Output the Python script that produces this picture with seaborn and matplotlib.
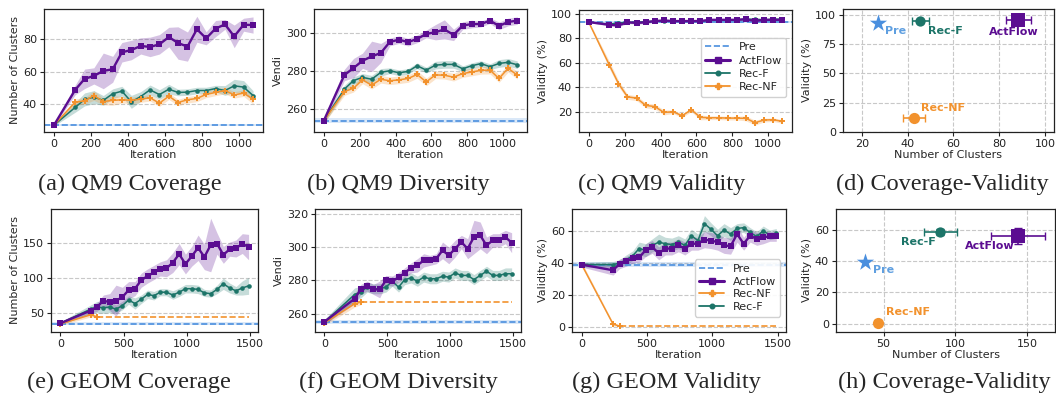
import numpy as np
import matplotlib
matplotlib.use("Agg")
import matplotlib.pyplot as plt
import seaborn as sns
from matplotlib.lines import Line2D

# ---------------- data ----------------
QM9_ITER = [0, 115, 166, 216, 267, 318, 368, 419, 470, 520, 571, 622, 672, 723, 774, 824, 875, 926, 976, 1027, 1078]

qm9_cov_act = [27, 48.8, 55.6, 57.4, 60.5, 61.5, 72, 73.4, 75.9, 75.3, 76.9, 81.4, 77.7, 75.5, 86.2, 80.6, 86.6, 89.2, 81.8, 89, 88.8]
qm9_cov_act_sd = [0.5, 3, 6, 5, 11, 8, 6, 6, 5, 6, 6, 6, 10, 9, 8, 4, 5, 3, 7, 4, 5]
qm9_cov_recf = [27, 38, 42.9, 44.3, 42.3, 46.4, 48, 41.4, 44.7, 48.8, 45.9, 49.2, 47.2, 47.4, 48.4, 48.4, 49.6, 48.4, 51.3, 50.5, 45.3]
qm9_cov_recf_sd = [0.5, 3, 4, 4, 3, 3, 3, 4, 3, 3, 3, 3, 2, 2, 2, 2, 2, 3, 4, 4, 3]
qm9_cov_recnf = [27, 41.2, 42, 45.3, 41.6, 42.3, 42.7, 42.3, 43.1, 43.9, 40.6, 44.9, 41, 42.7, 43.5, 46, 47.2, 48.4, 45.7, 46.8, 43.1]
qm9_cov_recnf_sd = [0.5, 2, 2, 3, 2, 3, 2, 2, 2, 2, 2, 2, 2, 2, 2, 2, 2, 2, 2, 2, 3]
qm9_cov_pre, qm9_cov_pre_sd = 27.1, 0.6

qm9_div_act = [253.6, 277.7, 281.4, 285.2, 287.5, 289.3, 295.1, 296.3, 295, 296.7, 299.3, 300.2, 301.7, 298.8, 303.7, 304.5, 304.5, 306.3, 303.5, 305.6, 306.3]
qm9_div_act_sd = [1.5, 3, 5, 4, 8, 5, 2, 2, 2, 2, 2, 4, 5, 3, 2, 2, 1.5, 1.5, 2, 2, 2]
qm9_div_recf = [253.6, 270.3, 274.8, 276.5, 275.5, 279.1, 280, 278.9, 279.6, 282.6, 280.3, 282.9, 283.3, 283.3, 281, 282.6, 283.7, 282.1, 283.8, 284.4, 283.1]
qm9_div_recf_sd = [1.5, 2, 2, 2, 2, 2, 1.5, 1.5, 1.5, 1.5, 1.5, 2, 2, 2, 1.5, 1.5, 1.5, 1.5, 2, 2, 2]
qm9_div_recnf = [253.6, 269, 270.8, 275.2, 272.4, 275.5, 274.7, 275.2, 275.9, 278, 274.1, 277.8, 277.6, 276.6, 278.5, 279.3, 280.2, 280.3, 275.9, 281.3, 277.6]
qm9_div_recnf_sd = [1.5, 2, 2, 2, 2, 2, 2, 2, 2, 2, 2, 2, 2, 2, 2, 2, 2, 2, 2, 2, 2]
qm9_div_pre, qm9_div_pre_sd = 253.8, 1.5

qm9_val_act = [93.2, 91, 90.5, 93, 92.5, 93, 94, 94.5, 94, 94, 94, 94, 95, 95, 95, 95, 95.5, 94, 95, 95, 95]
qm9_val_act_sd = [0.5, 1, 1.2, 1, 1, 1, 1, 1, 1, 1, 1, 1, 1, 1, 1, 1, 1, 1, 1, 1, 1]
qm9_val_recf = [93.2, 91.5, 92.5, 93, 93, 93.5, 94, 94, 94, 94, 94, 94, 94.5, 95, 95, 95, 95.5, 95.5, 95, 95.5, 95.5]
qm9_val_recf_sd = [0.5, 1, 1, 1, 1, 1, 1, 1, 1, 1, 1, 1, 1, 1, 1, 1, 1, 1, 1, 1, 1]
qm9_val_recnf = [93.2, 58.3, 43.2, 32.4, 31.3, 25.4, 24.5, 19.7, 20.3, 17, 21.9, 15.7, 15.4, 15.4, 15.1, 15.1, 14.9, 11.4, 13.5, 13.8, 12.4]
qm9_val_recnf_sd = [1, 3, 2.5, 2, 2, 2, 2, 2, 1.5, 1.5, 1.5, 2, 1.5, 1.5, 1.5, 1.5, 2, 2, 1.5, 1.5, 1.5]
qm9_val_pre, qm9_val_pre_sd = 93.2, 0.5

GEOM_ITER = [0, 240, 290, 340, 390, 440, 490, 540, 590, 640, 690, 740, 790, 840, 890, 940, 990, 1040, 1090, 1140, 1190, 1240, 1290, 1340, 1390, 1440, 1490]

geom_cov_act = [36, 54, 59, 68, 66, 68, 73, 83, 85, 97, 103, 108, 113, 114, 122, 134, 120, 131, 143, 130, 147, 149, 133, 141, 142, 149, 144]
geom_cov_act_sd = [2, 4, 6, 8, 12, 22, 14, 12, 10, 10, 10, 10, 10, 12, 14, 15, 14, 14, 18, 18, 38, 15, 12, 10, 12, 14, 18]
geom_cov_recf = [36, 56, 59, 58, 59, 56, 61, 69, 64, 70, 77, 75, 80, 80, 76, 80, 85, 85, 84, 79, 78, 84, 92, 86, 82, 86, 89]
geom_cov_recf_sd = [2, 6, 8, 8, 8, 6, 6, 6, 8, 6, 6, 6, 5, 5, 6, 6, 6, 6, 6, 5, 5, 6, 8, 7, 6, 10, 12]
geom_cov_recnf = [35, 48, 45]
geom_cov_recnf_sd = [2, 3, 2]
geom_cov_pre, geom_cov_pre_sd = 35.5, 2.5

geom_div_act = [255.2, 269, 274.6, 276.6, 274.6, 274.6, 280, 279.6, 281.8, 284.6, 287.5, 289, 292, 292, 293, 298, 295, 299, 303, 299, 306, 307, 301, 304, 304, 306, 302.6]
geom_div_act_sd = [1.5, 3, 3, 3, 3, 5, 3, 3, 3, 3, 3, 4, 4, 3, 3, 5, 5, 5, 4, 6, 10, 8, 5, 4, 4, 4, 6]
geom_div_recf = [255, 271.5, 273, 276, 275, 275, 276, 279.5, 276, 280.5, 281.5, 279.5, 282, 281, 281, 282.5, 282, 284.5, 283, 283, 280.5, 283, 285.5, 283, 283, 284, 284]
geom_div_recf_sd = [1.5, 4, 3.5, 3, 3, 3, 3, 3, 3, 3, 3, 3, 3, 3, 3, 3, 3, 3, 3, 3, 3, 3, 3, 3, 3, 3.5, 3.5]
geom_div_recnf = [254.5, 266, 267]
geom_div_recnf_sd = [1.5, 2, 1.5]
geom_div_pre, geom_div_pre_sd = 254.8, 1.2

geom_val_act = [39, 35.5, 39.5, 41, 43, 43.5, 48, 50, 46, 49, 49, 51, 49, 52, 52, 54.5, 54, 53, 51, 50.5, 58, 52, 57, 55, 56, 56.5, 56.5]
geom_val_act_sd = [1.5, 3, 3, 3, 3, 3, 4, 4, 4, 4, 4, 4, 4, 4, 4, 5, 5, 5, 5, 5, 5, 4, 4, 4, 4, 3, 3]
geom_val_recf = [39, 39, 40, 42, 44.5, 49, 48, 51, 53, 52, 51.5, 53, 51, 57, 54, 64.5, 61, 57, 60.5, 58, 61.5, 62, 59, 56.5, 60, 57.5, 58.5]
geom_val_recf_sd = [1.5, 2, 2, 3, 3, 4, 4, 4, 5, 4, 4, 4, 4, 4, 4, 5, 4, 4, 4, 4, 3, 3, 3, 3, 3, 3, 3]
geom_val_recnf = [39, 2, 0.8]
geom_val_recnf_sd = [1.5, 1, 0.5]
geom_val_pre, geom_val_pre_sd = 38.9, 1.5

SUMMARY_LABELS = ["Pre", "Rec-F", "ActFlow", "Rec-NF"]
qm9_sum_x = [27.2, 45.5, 88.3, 43.0]
qm9_sum_y = [93.2, 95.0, 95.5, 12.0]
qm9_sum_xerr = [0, 3.8, 5.4, 4.8]
qm9_sum_yerr = [0, 1.0, 1.0, 1.5]
geom_sum_x = [36.8, 89.4, 143.5, 46.0]
geom_sum_y = [39.2, 58.5, 56.2, 0.5]
geom_sum_xerr = [0, 11.6, 19.0, 2.0]
geom_sum_yerr = [0, 2.0, 5.0, 1.0]

# ---------------- style ----------------
sns.set_style("ticks")
plt.rcParams["font.family"] = ["DejaVu Sans"]
plt.rcParams["axes.edgecolor"] = "#222222"
plt.rcParams["axes.linewidth"] = 0.9

C_ACT = "#5b0d91"
C_RECF = "#1c7468"
C_RECNF = "#f2922d"
C_PRE = "#4a8fde"
C_PRE_TXT = "#5f9fe0"
FS = 8

W, H = 1056, 396
fig = plt.figure(figsize=(W / 100, H / 100), dpi=100)


def add_ax(L, T, R, B):
    return fig.add_axes([L / W, 1 - B / H, (R - L) / W, (B - T) / H])


def style_ax(ax, both_grid=False):
    ax.tick_params(labelsize=FS, length=3, width=0.8, colors="#222222", pad=2)
    if both_grid:
        ax.grid(True, linestyle="--", color="#c8c8c8", linewidth=0.8)
    else:
        ax.yaxis.grid(True, linestyle="--", color="#c8c8c8", linewidth=0.8)
        ax.xaxis.grid(False)
    ax.set_axisbelow(True)


def band(ax, x, m, sd, color, alpha=0.25):
    m = np.asarray(m, float)
    sd = np.asarray(sd, float)
    ax.fill_between(x, m - sd, m + sd, color=color, alpha=alpha, linewidth=0)


def series(ax, x, m, sd, color, marker, ms, lw, label):
    band(ax, x, m, sd, color)
    sns.lineplot(x=x, y=m, ax=ax, color=color, marker=marker, markersize=ms,
                 markeredgewidth=0, linewidth=lw, label=label, legend=False,
                 errorbar=None)


def pre_line(ax, val, sd):
    ax.axhspan(val - sd, val + sd, color=C_PRE, alpha=0.2, linewidth=0)
    ax.axhline(val, color=C_PRE, linestyle="--", linewidth=1.2, label="Pre")


def line_panel(ax, x, act, act_sd, recf, recf_sd, recnf, recnf_sd, pre, pre_sd,
               ylabel, ylim, yticks, xticks, truncated_nf=False):
    pre_line(ax, pre, pre_sd)
    if truncated_nf:
        xn = x[:len(recnf)]
        ax.hlines(recnf[-1], xn[-1], x[-1], colors=C_RECNF, linestyles="--", linewidth=1.2)
        series(ax, xn, recnf, recnf_sd, C_RECNF, "P", 4, 1.1, "Rec-NF")
    series(ax, x, recf, recf_sd, C_RECF, "o", 3.3, 1.1, "Rec-F")
    if not truncated_nf:
        series(ax, x, recnf, recnf_sd, C_RECNF, "P", 4, 1.1, "Rec-NF")
    series(ax, x, act, act_sd, C_ACT, "s", 4.2, 1.7, "ActFlow")
    ax.set_ylim(*ylim)
    ax.set_yticks(yticks)
    ax.set_xticks(xticks)
    ax.set_xlabel("Iteration", fontsize=FS, labelpad=1)
    ax.set_ylabel(ylabel, fontsize=FS, labelpad=2)
    style_ax(ax)


def legend_handles(order):
    h = {
        "Pre": Line2D([], [], color=C_PRE, linestyle="--", linewidth=1.2),
        "ActFlow": Line2D([], [], color=C_ACT, marker="s", markersize=4.5, linewidth=2.2),
        "Rec-F": Line2D([], [], color=C_RECF, marker="o", markersize=3.3, linewidth=1.3),
        "Rec-NF": Line2D([], [], color=C_RECNF, marker="P", markersize=4, linewidth=1.3),
    }
    return [h[k] for k in order], order


def summary_panel(ax, xs, ys, xerr, yerr, xlim, ylim, xticks, yticks, offsets):
    colors = [C_PRE, C_RECF, C_ACT, C_RECNF]
    markers = ["*", "o", "s", "o"]
    sizes = [170, 55, 95, 65]
    txtcol = [C_PRE_TXT, C_RECF, C_ACT, C_RECNF]
    for i, lab in enumerate(SUMMARY_LABELS):
        if xerr[i] > 0 or yerr[i] > 0:
            ax.errorbar(xs[i], ys[i], xerr=xerr[i], yerr=yerr[i], fmt="none",
                        ecolor=colors[i], elinewidth=1.2, capsize=3, capthick=1.0)
    df_x = np.asarray(xs)
    df_y = np.asarray(ys)
    for i, lab in enumerate(SUMMARY_LABELS):
        sns.scatterplot(x=[df_x[i]], y=[df_y[i]], ax=ax, color=colors[i],
                        marker=markers[i], s=sizes[i], linewidth=0, zorder=3,
                        legend=False)
        dx, dy, ha = offsets[i]
        ax.annotate(lab, (xs[i], ys[i]), xytext=(dx, dy), textcoords="offset pixels",
                    ha=ha, va="center", fontsize=FS, fontweight="bold", color=txtcol[i])
    ax.set_xlim(*xlim)
    ax.set_ylim(*ylim)
    ax.set_xticks(xticks)
    ax.set_yticks(yticks)
    ax.set_xlabel("Number of Clusters", fontsize=FS, labelpad=1)
    ax.set_ylabel("Validity (%)", fontsize=FS, labelpad=2)
    style_ax(ax, both_grid=True)


# ---------------- top row (QM9) ----------------
ax_a = add_ax(44, 9, 263, 132)
line_panel(ax_a, QM9_ITER, qm9_cov_act, qm9_cov_act_sd, qm9_cov_recf, qm9_cov_recf_sd,
           qm9_cov_recnf, qm9_cov_recnf_sd, qm9_cov_pre, qm9_cov_pre_sd,
           "Number of Clusters", (22.8, 98.7), [40, 60, 80], [0, 200, 400, 600, 800, 1000])

ax_b = add_ax(314, 9, 527, 132)
line_panel(ax_b, QM9_ITER, qm9_div_act, qm9_div_act_sd, qm9_div_recf, qm9_div_recf_sd,
           qm9_div_recnf, qm9_div_recnf_sd, qm9_div_pre, qm9_div_pre_sd,
           "Vendi", (247.8, 312.4), [260, 280, 300], [0, 200, 400, 600, 800, 1000])

ax_c = add_ax(579, 10, 792, 132)
line_panel(ax_c, QM9_ITER, qm9_val_act, qm9_val_act_sd, qm9_val_recf, qm9_val_recf_sd,
           qm9_val_recnf, qm9_val_recnf_sd, qm9_val_pre, qm9_val_pre_sd,
           "Validity (%)", (3.8, 103), [20, 40, 60, 80, 100], [0, 200, 400, 600, 800, 1000])
hh, ll = legend_handles(["Pre", "ActFlow", "Rec-F", "Rec-NF"])
ax_c.legend(hh, ll, loc="center right", bbox_to_anchor=(1.0, 0.53), fontsize=FS,
            handlelength=2.2, labelspacing=0.3, borderpad=0.4, framealpha=0.9)

ax_d = add_ax(843, 9, 1054, 132)
summary_panel(ax_d, qm9_sum_x, qm9_sum_y, qm9_sum_xerr, qm9_sum_yerr,
              (11.8, 103.9), (0, 105), [20, 40, 60, 80, 100], [0, 25, 50, 75, 100],
              [(7, -8, "left"), (8, -10, "left"), (-5, -12, "center"), (7, 10, "left")])

# ---------------- bottom row (GEOM) ----------------
ax_e = add_ax(51, 209, 258, 332)
line_panel(ax_e, GEOM_ITER, geom_cov_act, geom_cov_act_sd, geom_cov_recf, geom_cov_recf_sd,
           geom_cov_recnf, geom_cov_recnf_sd, geom_cov_pre, geom_cov_pre_sd,
           "Number of Clusters", (23.6, 198), [50, 100, 150], [0, 500, 1000, 1500],
           truncated_nf=True)

ax_f = add_ax(315, 209, 521, 332)
line_panel(ax_f, GEOM_ITER, geom_div_act, geom_div_act_sd, geom_div_recf, geom_div_recf_sd,
           geom_div_recnf, geom_div_recnf_sd, geom_div_pre, geom_div_pre_sd,
           "Vendi", (249.1, 322.8), [260, 280, 300, 320], [0, 500, 1000, 1500],
           truncated_nf=True)

ax_g = add_ax(572, 209, 786, 332)
line_panel(ax_g, GEOM_ITER, geom_val_act, geom_val_act_sd, geom_val_recf, geom_val_recf_sd,
           geom_val_recnf, geom_val_recnf_sd, geom_val_pre, geom_val_pre_sd,
           "Validity (%)", (-2.9, 73.6), [0, 20, 40, 60], [0, 500, 1000, 1500],
           truncated_nf=True)
hh, ll = legend_handles(["Pre", "ActFlow", "Rec-NF", "Rec-F"])
ax_g.legend(hh, ll, loc="lower right", bbox_to_anchor=(1.0, 0.08), fontsize=FS,
            handlelength=2.2, labelspacing=0.25, borderpad=0.4, framealpha=0.9)

ax_h = add_ax(836, 209, 1055, 332)
summary_panel(ax_h, geom_sum_x, geom_sum_y, geom_sum_xerr, geom_sum_yerr,
              (16.8, 169.3), (-5.3, 73.4), [50, 100, 150], [0, 20, 40, 60],
              [(8, -8, "left"), (-22, -10, "center"), (-28, -10, "center"), (8, 11, "left")])

# ---------------- captions ----------------
captions_top = [("(a) QM9 Coverage", 130), ("(b) QM9 Diversity", 398),
                ("(c) QM9 Validity", 662), ("(d) Coverage-Validity", 942)]
captions_bot = [("(e) GEOM Coverage", 129), ("(f) GEOM Diversity", 398),
                ("(g) GEOM Validity", 666), ("(h) Coverage-Validity", 944)]
for txt, xc in captions_top:
    fig.text(xc / W, 1 - 184 / H, txt, ha="center", va="center",
             fontsize=17.5, family="Liberation Serif")
for txt, xc in captions_bot:
    fig.text(xc / W, 1 - 382 / H, txt, ha="center", va="center",
             fontsize=17.5, family="Liberation Serif")

fig.savefig("out.png", dpi=100)
